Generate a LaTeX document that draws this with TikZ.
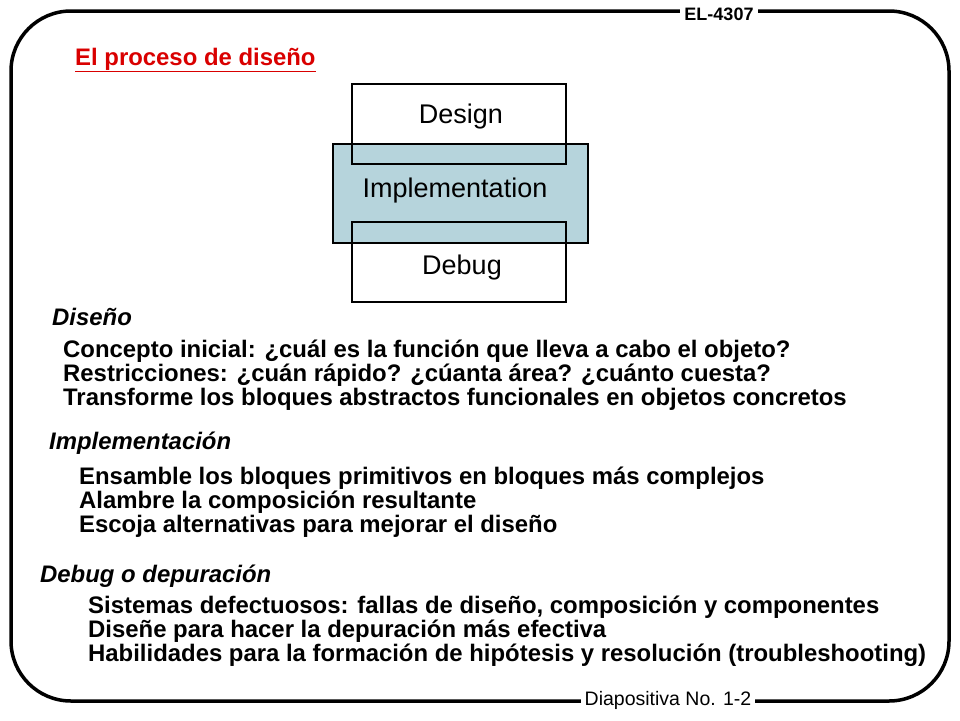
\documentclass[tikz,border=0pt]{standalone}
\usepackage{fontspec}
\setmainfont{Liberation Sans}
\begin{document}
\begin{tikzpicture}[x=1pt,y=-1pt,
  body/.style={anchor=west,font=\bfseries\fontsize{23.9}{28}\selectfont,inner sep=0},
  head/.style={anchor=west,font=\bfseries\itshape\fontsize{23.9}{28}\selectfont,inner sep=0},
  blk/.style={draw=black,line width=1.2pt},
  lab/.style={font=\fontsize{27}{32}\selectfont,inner sep=0}]
\useasboundingbox (0,0) rectangle (960,720);
\draw[line width=3.5pt,rounded corners=60pt] (11,11) rectangle (949,701);
\node[fill=white,font=\bfseries\fontsize{18}{20}\selectfont,inner sep=4pt] (el) at (719,14) {EL-4307};
\node[fill=white,font=\fontsize{19.5}{22}\selectfont,inner sep=4pt] (dp) at (668,700) {Diapositiva No. 1-2};
\node[anchor=west,inner sep=0,text=red!85!black,font=\bfseries\fontsize{23.9}{28}\selectfont] (t) at (75,60) {\underline{El proceso de diseño}};
\fill[white] (352,84) rectangle (566,164);
\fill[white] (352,222) rectangle (566,302);
\fill[fill={rgb,255:red,182;green,212;blue,220}] (333,144) rectangle (588,243);
\draw[blk] (333,144) rectangle (588,243);
\draw[blk] (352,84) rectangle (566,164);
\draw[blk] (352,222) rectangle (566,302);
\node[lab] (d) at (461,117) {Design};
\node[lab] (i) at (455,191) {Implementation};
\node[lab] (g) at (462,268) {Debug};
\node[head] (h1) at (52,317) {Diseño};
\node[body] at (63,351) {Concepto inicial: ¿cuál es la función que lleva a cabo el objeto?};
\node[body] at (63,375) {Restricciones: ¿cuán rápido? ¿cúanta área? ¿cuánto cuesta?};
\node[body] at (63,399) {Transforme los bloques abstractos funcionales en objetos concretos};
\node[head] (h2) at (49,443) {Implementación};
\node[body] at (79,478) {Ensamble los bloques primitivos en bloques más complejos};
\node[body] at (79,502) {Alambre la composición resultante};
\node[body] at (79,526) {Escoja alternativas para mejorar el diseño};
\node[head] (h3) at (40,576) {Debug o depuración};
\node[body] at (88,607) {Sistemas defectuosos: fallas de diseño, composición y componentes};
\node[body] at (88,631) {Diseñe para hacer la depuración más efectiva};
\node[body] at (88,655) {Habilidades para la formación de hipótesis y resolución (troubleshooting)};
\end{tikzpicture}
\end{document}
